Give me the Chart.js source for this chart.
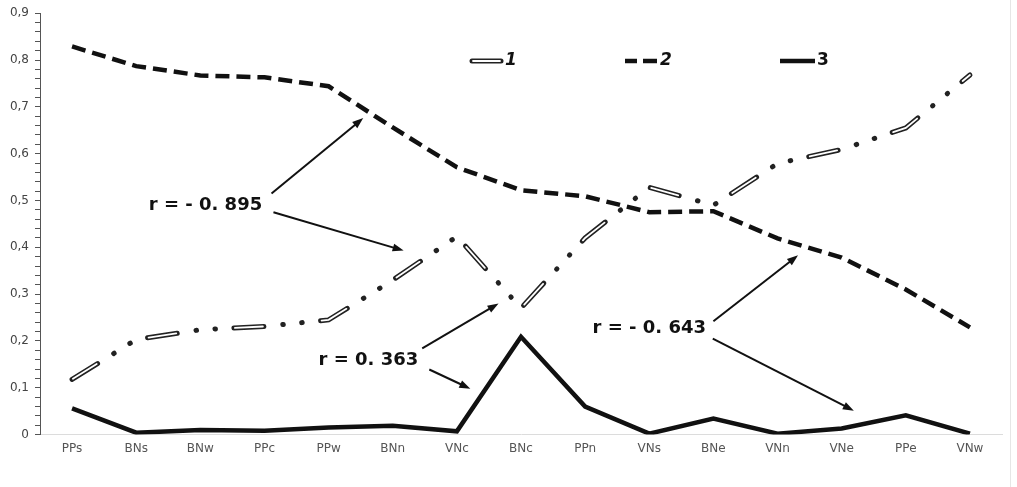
<!DOCTYPE html>
<html>
<head>
<meta charset="utf-8">
<script src="https://cdn.jsdelivr.net/npm/chart.js@4/dist/chart.umd.min.js"></script>
<style>
  body { margin: 0; background: #fff; }
  canvas { display: block; }
</style>
</head>
<body>
<canvas id="myChart" width="1017" height="487"></canvas>
<script>
'use strict';

// categories along the x axis
let categories = ['PPs', 'BNs', 'BNw', 'PPc', 'PPw', 'BNn', 'VNc', 'BNc', 'PPn', 'VNs', 'BNe', 'VNn', 'VNe', 'PPe', 'VNw'];

// series values
let series1 = [0.118, 0.203, 0.224, 0.231, 0.245, 0.33, 0.423, 0.27, 0.42, 0.528, 0.49, 0.579, 0.609, 0.655, 0.768];
let series2 = [0.829, 0.787, 0.767, 0.763, 0.744, 0.656, 0.571, 0.522, 0.509, 0.475, 0.477, 0.419, 0.378, 0.31, 0.229];
let series3 = [0.056, 0.004, 0.01, 0.008, 0.015, 0.019, 0.007, 0.209, 0.06, 0.002, 0.034, 0.002, 0.013, 0.041, 0.002];

// y axis: labelled every 0.1, small ticks every 0.02
let yTicks = [];
for (let i = 0; i <= 45; i++) {
  yTicks.push(Math.round(i * 2) / 100);
}

// correlation notes: text position and arrows, in (category index, value)
let notes = [
  { text: 'r = - 0. 895', at: [2.08, 0.49], arrows: [[3.11, 0.515, 4.54, 0.676], [3.14, 0.475, 5.17, 0.393]] },
  { text: 'r = 0. 363', at: [4.62, 0.158], arrows: [[5.46, 0.184, 6.65, 0.28], [5.57, 0.139, 6.21, 0.098]] },
  { text: 'r = - 0. 643', at: [9.0, 0.227], arrows: [[10.0, 0.242, 11.32, 0.383], [9.99, 0.205, 12.19, 0.051]] }
];

function drawArrow(ctx, x1, y1, x2, y2) {
  let ang = Math.atan2(y2 - y1, x2 - x1);
  let head = 11;
  ctx.beginPath();
  ctx.moveTo(x1, y1);
  ctx.lineTo(x2 - Math.cos(ang) * head * 0.8, y2 - Math.sin(ang) * head * 0.8);
  ctx.stroke();
  ctx.beginPath();
  ctx.moveTo(x2, y2);
  ctx.lineTo(x2 - head * Math.cos(ang) + 4 * Math.sin(ang), y2 - head * Math.sin(ang) - 4 * Math.cos(ang));
  ctx.lineTo(x2 - head * Math.cos(ang) - 4 * Math.sin(ang), y2 - head * Math.sin(ang) + 4 * Math.cos(ang));
  ctx.closePath();
  ctx.fill();
}

const extras = {
  id: 'extras',
  afterDatasetsDraw(chart) {
    let ctx = chart.ctx;
    let xs = chart.scales.x;
    let ys = chart.scales.y;
    ctx.save();

    // notes with arrows
    ctx.fillStyle = '#111';
    ctx.strokeStyle = '#111';
    ctx.lineWidth = 2;
    ctx.font = 'bold 18px "DejaVu Sans"';
    ctx.textAlign = 'center';
    ctx.textBaseline = 'middle';
    for (let n of notes) {
      ctx.fillText(n.text, xs.getPixelForValue(n.at[0]), ys.getPixelForValue(n.at[1]));
      for (let a of n.arrows) {
        drawArrow(ctx, xs.getPixelForValue(a[0]), ys.getPixelForValue(a[1]),
          xs.getPixelForValue(a[2]), ys.getPixelForValue(a[3]));
      }
    }

    // legend inside the plot
    let ly = 61;
    ctx.lineCap = 'round';
    ctx.strokeStyle = '#222';
    ctx.lineWidth = 5;
    ctx.beginPath(); ctx.moveTo(472, ly); ctx.lineTo(501, ly); ctx.stroke();
    ctx.strokeStyle = '#fff';
    ctx.lineWidth = 1.8;
    ctx.beginPath(); ctx.moveTo(473, ly); ctx.lineTo(500, ly); ctx.stroke();

    ctx.lineCap = 'butt';
    ctx.strokeStyle = '#111';
    ctx.lineWidth = 4.5;
    ctx.beginPath(); ctx.moveTo(625, ly); ctx.lineTo(637, ly); ctx.stroke();
    ctx.beginPath(); ctx.moveTo(643, ly); ctx.lineTo(657, ly); ctx.stroke();
    ctx.beginPath(); ctx.moveTo(780, ly); ctx.lineTo(815, ly); ctx.stroke();

    ctx.textAlign = 'left';
    ctx.font = 'italic bold 17px "DejaVu Sans"';
    ctx.fillText('1', 505, ly);
    ctx.fillText('2', 660, ly);
    ctx.font = 'bold 17px "DejaVu Sans"';
    ctx.fillText('3', 817, ly);

    // faint frame line at the right
    ctx.strokeStyle = '#e6e6e6';
    ctx.lineWidth = 1;
    ctx.beginPath(); ctx.moveTo(1010.5, 0); ctx.lineTo(1010.5, 487); ctx.stroke();
    ctx.restore();
  }
};

const data = {
  labels: categories,
  datasets: [
    {
      label: '1 inner',
      data: series1,
      borderColor: '#fff',
      borderWidth: 1.8,
      borderDash: [28, 59],
      borderDashOffset: -1,
      borderCapStyle: 'round',
      pointRadius: 0,
      tension: 0,
      order: 0
    },
    {
      label: '1',
      data: series1,
      borderColor: '#222',
      borderWidth: 5,
      borderDash: [30, 19, 0.5, 18.5, 0.5, 18.5],
      borderCapStyle: 'round',
      pointRadius: 0,
      tension: 0,
      order: 1
    },
    {
      label: '2',
      data: series2,
      borderColor: '#111',
      borderWidth: 4.5,
      borderDash: [14, 7],
      pointRadius: 0,
      tension: 0,
      order: 2
    },
    {
      label: '3',
      data: series3,
      borderColor: '#111',
      borderWidth: 4.5,
      pointRadius: 0,
      tension: 0,
      order: 3
    }
  ]
};

const config = {
  type: 'line',
  data: data,
  options: {
    responsive: false,
    animation: false,
    devicePixelRatio: 1,
    layout: {
      padding: { left: 0, right: 15, top: 13, bottom: 24 }
    },
    plugins: {
      legend: { display: false },
      tooltip: { enabled: false }
    },
    scales: {
      x: {
        offset: true,
        grid: { display: false, drawTicks: false },
        border: { display: true, color: '#dcdcdc', width: 1 },
        ticks: {
          color: '#555',
          font: { family: 'DejaVu Sans', size: 12 },
          padding: 7,
          maxRotation: 0,
          autoSkip: false
        }
      },
      y: {
        min: 0,
        max: 0.9,
        afterBuildTicks: (axis) => {
          axis.ticks = yTicks.map(v => ({ value: v }));
        },
        afterFit: (axis) => {
          axis.width = 40;
        },
        grid: {
          drawOnChartArea: false,
          tickLength: 5,
          tickColor: '#555'
        },
        border: { color: '#555', width: 1 },
        ticks: {
          autoSkip: false,
          color: '#444',
          font: { family: 'DejaVu Sans', size: 12 },
          padding: 6,
          callback: function (value) {
            let tenths = Math.round(value * 100);
            if (tenths % 10 !== 0) return '';
            if (tenths === 0) return '0';
            return (tenths / 100).toFixed(1).replace('.', ',');
          }
        }
      }
    }
  },
  plugins: [extras]
};

const myChart = new Chart(document.getElementById('myChart'), config);
</script>
</body>
</html>
